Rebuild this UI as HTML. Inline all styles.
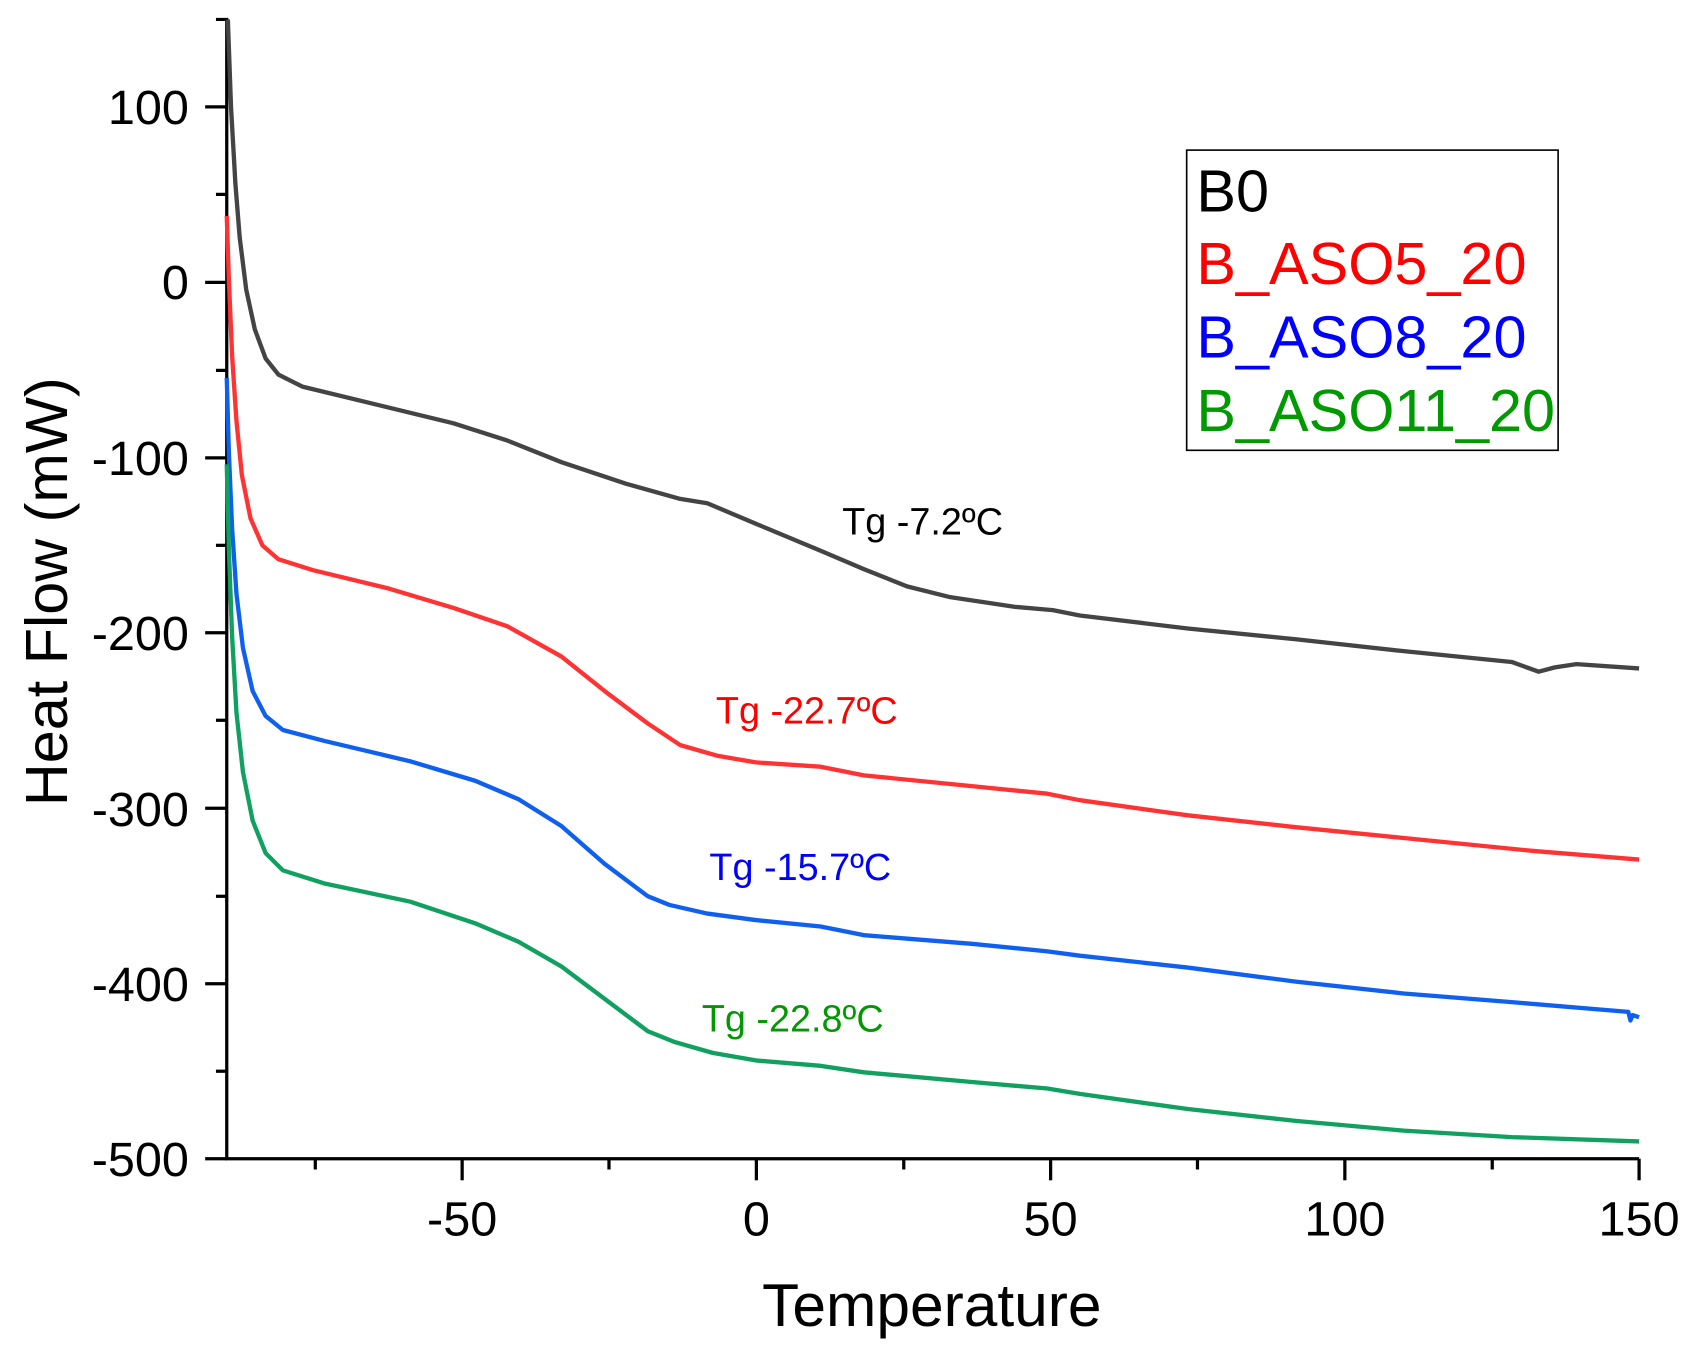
<!DOCTYPE html>
<html><head><style>html,body{margin:0;padding:0;background:#fff}svg{display:block}</style></head>
<body>
<svg width="1692" height="1352" viewBox="0 0 1567 1252" preserveAspectRatio="none" xmlns="http://www.w3.org/2000/svg" font-family="Liberation Sans, Arial, sans-serif">
<g stroke="#000" stroke-width="3" fill="none">
<polyline points="200,18 210,18 210,1073 1518,1073"/>
<line x1="1518" y1="1073" x2="1518" y2="1093"/>
<line x1="428" y1="1073" x2="428" y2="1093"/>
<line x1="700.5" y1="1073" x2="700.5" y2="1093"/>
<line x1="973" y1="1073" x2="973" y2="1093"/>
<line x1="1245.5" y1="1073" x2="1245.5" y2="1093"/>
<line x1="292" y1="1073" x2="292" y2="1083"/>
<line x1="564" y1="1073" x2="564" y2="1083"/>
<line x1="837" y1="1073" x2="837" y2="1083"/>
<line x1="1109" y1="1073" x2="1109" y2="1083"/>
<line x1="1382" y1="1073" x2="1382" y2="1083"/>
<line x1="190" y1="99" x2="210" y2="99"/>
<line x1="190" y1="261.5" x2="210" y2="261.5"/>
<line x1="190" y1="424" x2="210" y2="424"/>
<line x1="190" y1="586" x2="210" y2="586"/>
<line x1="190" y1="748.5" x2="210" y2="748.5"/>
<line x1="190" y1="911" x2="210" y2="911"/>
<line x1="190" y1="1073" x2="210" y2="1073"/>
<line x1="200" y1="180" x2="210" y2="180"/>
<line x1="200" y1="343" x2="210" y2="343"/>
<line x1="200" y1="505" x2="210" y2="505"/>
<line x1="200" y1="667" x2="210" y2="667"/>
<line x1="200" y1="830" x2="210" y2="830"/>
<line x1="200" y1="992" x2="210" y2="992"/>
</g>
<g font-size="45" fill="#000" text-anchor="end">
<text x="175" y="115">100</text><text x="175" y="277">0</text><text x="175" y="440">-100</text>
<text x="175" y="602">-200</text><text x="175" y="765">-300</text><text x="175" y="927">-400</text><text x="175" y="1089">-500</text>
</g>
<g font-size="45" fill="#000" text-anchor="middle">
<text x="428" y="1144">-50</text><text x="700.5" y="1144">0</text><text x="973" y="1144">50</text>
<text x="1245.5" y="1144">100</text><text x="1518" y="1144">150</text>
</g>
<text x="863" y="1228" font-size="56" text-anchor="middle">Temperature</text>
<text transform="translate(62,548) rotate(-90)" font-size="55" text-anchor="middle">Heat Flow (mW)</text>
<g fill="none" stroke-width="4" stroke-linejoin="round">
<polyline stroke="#444" points="211,18 214,100 218,170 222,220 228,268 236,305 246,332 258,347 280,358 350,375 420,392 470,408 520,428 580,448 630,462 655,466 700,485 760,510 800,527 840,543 880,553 940,562 975,565 1000,570 1100,582 1200,592 1300,603 1400,613 1425,622 1440,618 1460,615 1518,619"/>
<polyline stroke="#f33" points="210,200 212,260 215,330 219,390 224,440 232,480 243,505 258,518 290,528 360,545 420,563 470,580 520,608 560,640 600,670 630,690 665,700 700,706 760,710 800,718 900,728 970,735 1000,741 1100,755 1200,766 1300,776 1420,788 1518,796"/>
<polyline stroke="#1060f0" points="210,350 212,420 215,490 219,550 225,600 234,640 246,663 262,676 300,686 380,705 440,723 480,740 520,765 560,800 600,830 620,838 655,846 700,852 760,858 800,866 900,874 970,881 1000,885 1100,896 1200,909 1300,920 1400,928 1508,937 1510,945 1512,940 1518,942"/>
<polyline stroke="#10a060" points="210,430 212,510 215,590 219,660 225,715 234,760 246,790 262,806 300,818 380,835 440,855 480,872 520,895 560,925 600,955 625,965 660,975 700,982 760,987 800,993 900,1002 970,1008 1000,1013 1100,1027 1200,1038 1300,1047 1400,1053 1518,1057"/>
</g>
<g font-size="35">
<text x="780" y="495" fill="#000">Tg -7.2ºC</text>
<text x="663" y="670" fill="#f00">Tg -22.7ºC</text>
<text x="657" y="815" fill="#00f">Tg -15.7ºC</text>
<text x="650" y="955" fill="#090">Tg -22.8ºC</text>
</g>
<rect x="1099" y="139" width="344" height="278" fill="#fff" stroke="#000" stroke-width="1.5"/>
<g font-size="55">
<text x="1108" y="196" fill="#000">B0</text>
<text x="1108" y="263" fill="#f00">B_ASO5_20</text>
<text x="1108" y="331" fill="#00f">B_ASO8_20</text>
<text x="1108" y="399" fill="#090">B_ASO11_20</text>
</g>
</svg>
</body></html>
